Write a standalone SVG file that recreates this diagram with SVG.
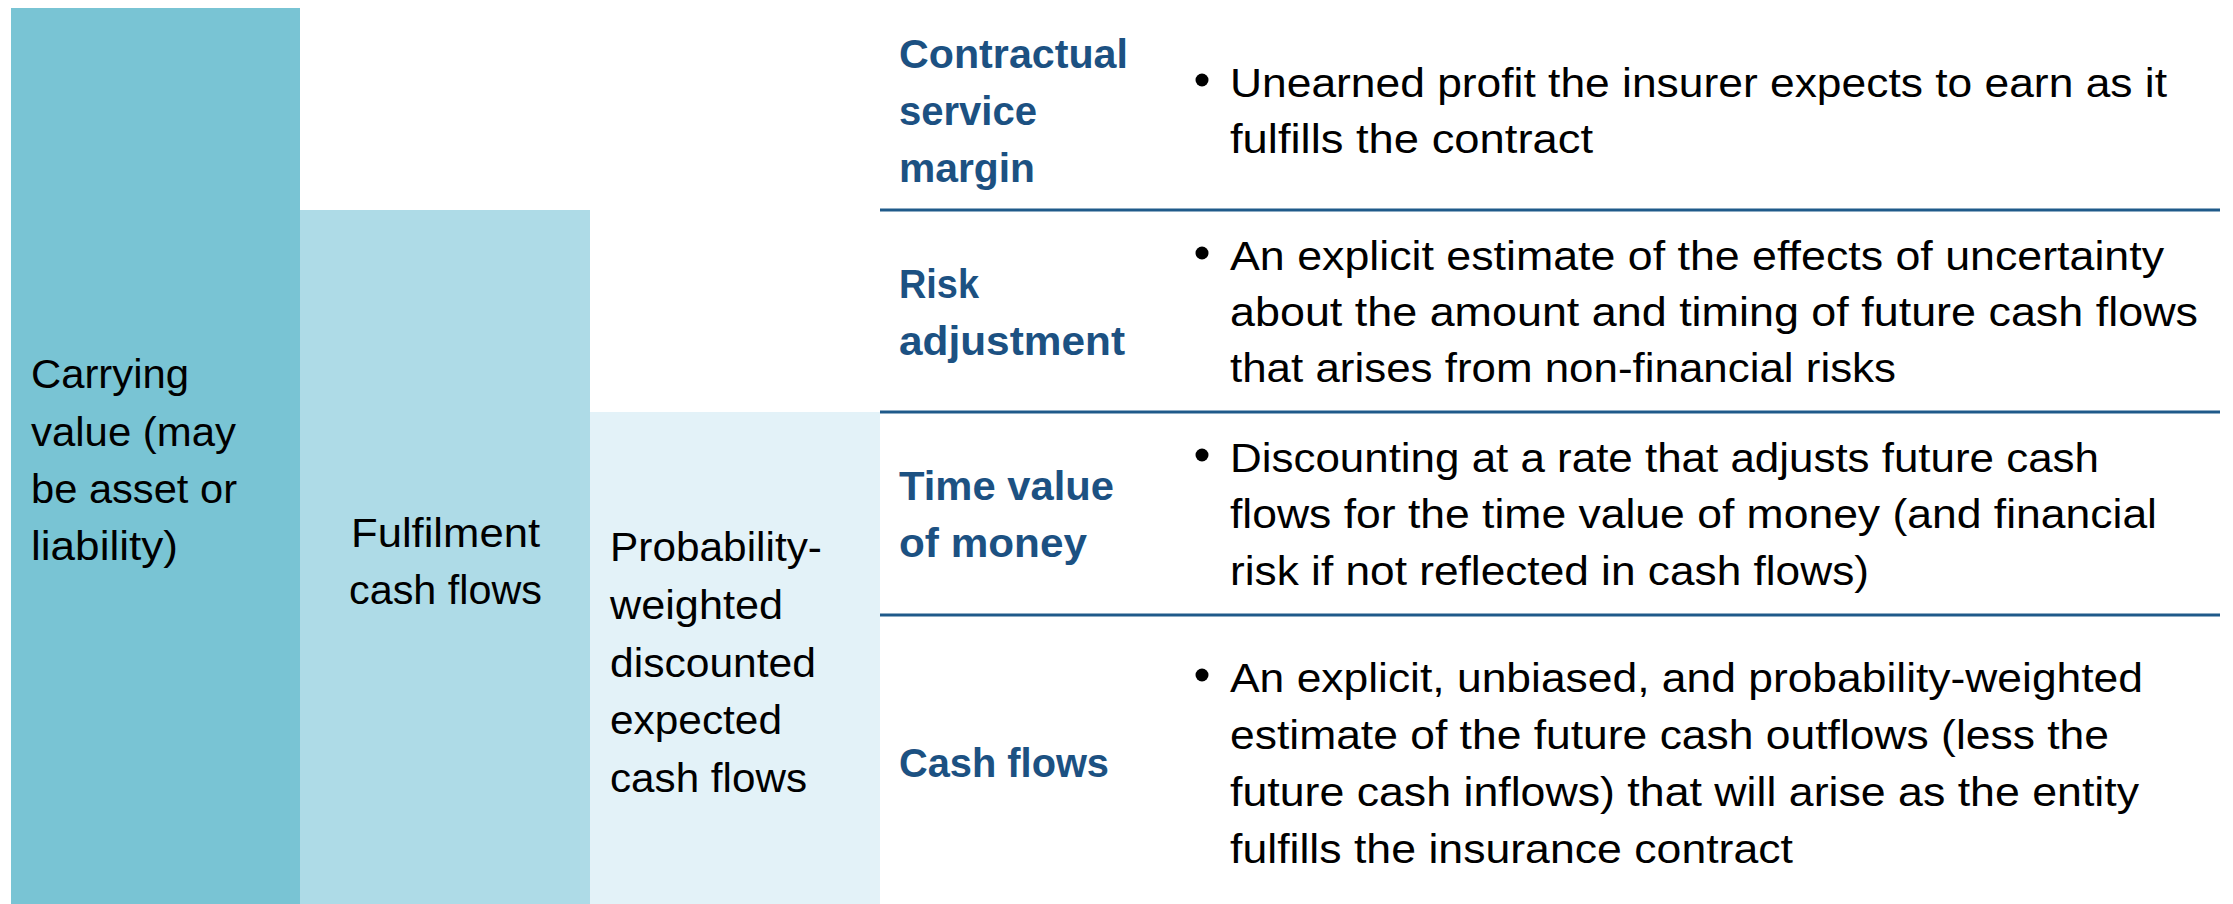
<svg xmlns="http://www.w3.org/2000/svg" width="2233" height="904" viewBox="0 0 2233 904">
<style>
text{font-family:"Liberation Sans",Arial,sans-serif;font-size:41px;fill:#000}
.h{font-weight:bold;fill:#1C5182}
.sep{stroke:#1F5A8A;stroke-width:3;fill:none}
.dot{fill:#000}
</style>
<rect width="2233" height="904" fill="#fff"/>
<g id="col-carrying">
<rect x="11" y="8" width="289" height="896" fill="#79C4D4"/>
<text x="31" y="388" textLength="158" lengthAdjust="spacingAndGlyphs">Carrying</text>
<text x="31" y="446" textLength="205" lengthAdjust="spacingAndGlyphs">value (may</text>
<text x="31" y="503" textLength="206" lengthAdjust="spacingAndGlyphs">be asset or</text>
<text x="31" y="560" textLength="147" lengthAdjust="spacingAndGlyphs">liability)</text>
</g>
<g id="col-fulfilment">
<rect x="300" y="210" width="290" height="694" fill="#AEDBE7"/>
<text x="351" y="547" textLength="189" lengthAdjust="spacingAndGlyphs">Fulfilment</text>
<text x="349" y="604" textLength="193" lengthAdjust="spacingAndGlyphs">cash flows</text>
</g>
<g id="col-pw">
<rect x="590" y="412" width="290" height="492" fill="#E3F2F8"/>
<text x="610" y="561" textLength="212" lengthAdjust="spacingAndGlyphs">Probability-</text>
<text x="610" y="619" textLength="173" lengthAdjust="spacingAndGlyphs">weighted</text>
<text x="610" y="677" textLength="206" lengthAdjust="spacingAndGlyphs">discounted</text>
<text x="610" y="734" textLength="172" lengthAdjust="spacingAndGlyphs">expected</text>
<text x="610" y="792" textLength="197" lengthAdjust="spacingAndGlyphs">cash flows</text>
</g>
<g id="separators">
<line class="sep" x1="880" y1="210" x2="2220" y2="210"/>
<line class="sep" x1="880" y1="412" x2="2220" y2="412"/>
<line class="sep" x1="880" y1="615" x2="2220" y2="615"/>
</g>
<g id="row-csm">
<text class="h" x="899" y="68" textLength="229" lengthAdjust="spacingAndGlyphs">Contractual</text>
<text class="h" x="899" y="125" textLength="138" lengthAdjust="spacingAndGlyphs">service</text>
<text class="h" x="899" y="182" textLength="136" lengthAdjust="spacingAndGlyphs">margin</text>
<circle class="dot" cx="1202" cy="80" r="6.5"/>
<text x="1230" y="97" textLength="937" lengthAdjust="spacingAndGlyphs">Unearned profit the insurer expects to earn as it</text>
<text x="1230" y="153" textLength="363" lengthAdjust="spacingAndGlyphs">fulfills the contract</text>
</g>
<g id="row-ra">
<text class="h" x="899" y="298" textLength="80" lengthAdjust="spacingAndGlyphs">Risk</text>
<text class="h" x="899" y="355" textLength="226" lengthAdjust="spacingAndGlyphs">adjustment</text>
<circle class="dot" cx="1202" cy="253" r="6.5"/>
<text x="1230" y="270" textLength="934" lengthAdjust="spacingAndGlyphs">An explicit estimate of the effects of uncertainty</text>
<text x="1230" y="326" textLength="968" lengthAdjust="spacingAndGlyphs">about the amount and timing of future cash flows</text>
<text x="1230" y="382" textLength="666" lengthAdjust="spacingAndGlyphs">that arises from non-financial risks</text>
</g>
<g id="row-tvm">
<text class="h" x="899" y="500" textLength="215" lengthAdjust="spacingAndGlyphs">Time value</text>
<text class="h" x="899" y="557" textLength="188" lengthAdjust="spacingAndGlyphs">of money</text>
<circle class="dot" cx="1202" cy="455" r="6.5"/>
<text x="1230" y="472" textLength="869" lengthAdjust="spacingAndGlyphs">Discounting at a rate that adjusts future cash</text>
<text x="1230" y="528" textLength="927" lengthAdjust="spacingAndGlyphs">flows for the time value of money (and financial</text>
<text x="1230" y="585" textLength="639" lengthAdjust="spacingAndGlyphs">risk if not reflected in cash flows)</text>
</g>
<g id="row-cf">
<text class="h" x="899" y="777" textLength="210" lengthAdjust="spacingAndGlyphs">Cash flows</text>
<circle class="dot" cx="1202" cy="675" r="6.5"/>
<text x="1230" y="692" textLength="913" lengthAdjust="spacingAndGlyphs">An explicit, unbiased, and probability-weighted</text>
<text x="1230" y="749" textLength="879" lengthAdjust="spacingAndGlyphs">estimate of the future cash outflows (less the</text>
<text x="1230" y="806" textLength="909" lengthAdjust="spacingAndGlyphs">future cash inflows) that will arise as the entity</text>
<text x="1230" y="863" textLength="563" lengthAdjust="spacingAndGlyphs">fulfills the insurance contract</text>
</g>
</svg>
